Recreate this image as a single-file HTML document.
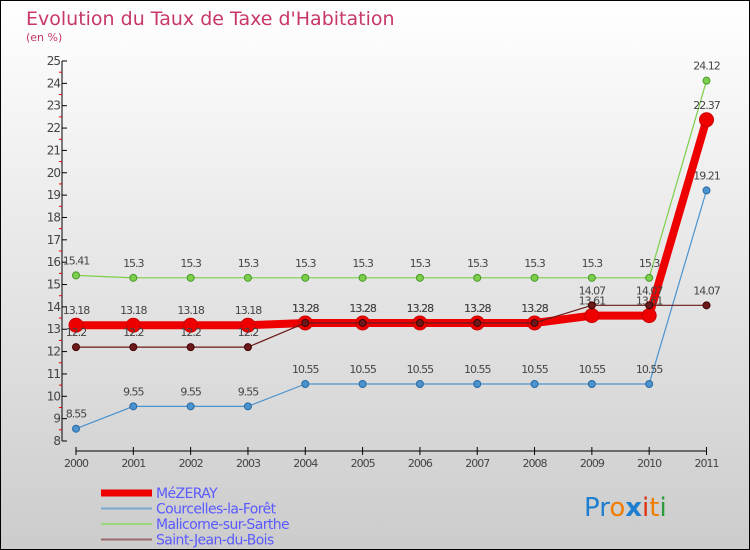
<!DOCTYPE html>
<html><head><meta charset="utf-8"><style>
body{margin:0}
#c{position:relative;width:748px;height:548px;border:1px solid #000;background:linear-gradient(#fff,#ccc);font-family:"DejaVu Sans","Liberation Sans",sans-serif;overflow:hidden}
svg{position:absolute;left:0;top:0}
</style></head><body>
<div id="c">
<svg id="s" width="748" height="548">
<text x="25" y="24" font-size="19" fill="#c8366a">Evolution du Taux de Taxe d'Habitation</text>
<text x="25" y="40" font-size="11" fill="#c8366a">(en %)</text>
<g id="axes"></g><g id="series"></g><g id="legend"></g>
<text x="583" y="515" font-size="26" font-family="'DejaVu Sans',sans-serif"><tspan fill="#1e7fd0">Pr</tspan><tspan fill="#f07d00">o</tspan><tspan fill="#1e7fd0" font-weight="bold">x</tspan><tspan fill="#e03010">i</tspan><tspan fill="#f07d00">t</tspan><tspan fill="#2a9a3a">i</tspan></text>
</svg>
</div>
<script>
const years=[2000,2001,2002,2003,2004,2005,2006,2007,2008,2009,2010,2011];
const mezeray=[13.18,13.18,13.18,13.18,13.28,13.28,13.28,13.28,13.28,13.61,13.61,22.37];
const courcelles=[8.55,9.55,9.55,9.55,10.55,10.55,10.55,10.55,10.55,10.55,10.55,19.21];
const malicorne=[15.41,15.3,15.3,15.3,15.3,15.3,15.3,15.3,15.3,15.3,15.3,24.12];
const saintjean=[12.2,12.2,12.2,12.2,13.28,13.28,13.28,13.28,13.28,14.07,14.07,14.07];
const yTicks=[8,9,10,11,12,13,14,15,16,17,18,19,20,21,22,23,24,25];
const NS="http://www.w3.org/2000/svg";
const X=i=>75+i*(705.5-75)/11;
const Y=v=>440-(v-8)*(380/17);
function mk(t,a,p){const e=document.createElementNS(NS,t);for(const k in a)e.setAttribute(k,a[k]);p.appendChild(e);return e;}
const ax=document.getElementById('axes');
let l=mk('line',{x1:61,y1:Y(25),x2:61,y2:Y(8),stroke:'#000'},ax);


yTicks.forEach(v=>{
 mk('line',{x1:61,y1:Y(v),x2:66,y2:Y(v),stroke:'#000'},ax);
 if(v<25)mk('line',{x1:58,y1:Y(v+0.5),x2:61,y2:Y(v+0.5),stroke:'#e00'},ax);
 const t=mk('text',{x:59,y:Y(v)+4,'font-size':12,fill:'#444','text-anchor':'end','letter-spacing':'-1'},ax);
 t.textContent=v;
 
 
});
l=mk('line',{x1:75,y1:450,x2:706,y2:450,stroke:'#000'},ax);


years.forEach((y,i)=>{
 mk('line',{x1:X(i),y1:446,x2:X(i),y2:454,stroke:'#000'},ax);
 const t=mk('text',{x:X(i),y:466,'font-size':11,fill:'#444','text-anchor':'middle','letter-spacing':'-1'},ax);
 t.textContent=y;
 
 
});
const sg=document.getElementById('series');
function draw(vals,color,w,r,name,dark){
 const g=mk('g',{},sg);
 
 
 mk('polyline',{points:vals.map((v,i)=>X(i)+','+Y(v)).join(' '),fill:'none',stroke:color,'stroke-width':w,'stroke-linejoin':'round'},g);
 vals.forEach((v,i)=>{
  const c=mk('circle',{cx:X(i),cy:Y(v),r:r,fill:color,stroke:dark,'stroke-width':1},g);
  
  
  const t=mk('text',{x:X(i),y:Y(v)-11,'font-size':11,fill:'#444','text-anchor':'middle','letter-spacing':'-1'},g);
  t.textContent=v;
  
  
 });
}
draw(courcelles,'#4a93cf',1.2,3.5,'courcelles','#2a6a9f');
draw(malicorne,'#7ccf4a',1.2,3.5,'malicorne','#4a9a2a');
draw(mezeray,'#ee0000',8,7,'mezeray','#c00');
draw(saintjean,'#6a1a1a',1.2,3.5,'saint-jean','#400');
const lg=document.getElementById('legend');
[['MéZERAY','#ee0000',7],['Courcelles-la-Forêt','#7aaad0',2],['Malicorne-sur-Sarthe','#9ad87a',2],['Saint-Jean-du-Bois','#9a6a6a',2]].forEach((d,i)=>{
 const y=492+i*15.5;
 const g=mk('g',{},lg);
 
 
 mk('line',{x1:100,y1:y,x2:151,y2:y,stroke:d[1],'stroke-width':d[2]},g);
 const t=mk('text',{x:155,y:y+5,'font-size':14,fill:'#5a5aff','letter-spacing':'-0.6'},g);
 t.textContent=d[0];
});
</script>
</body></html>
